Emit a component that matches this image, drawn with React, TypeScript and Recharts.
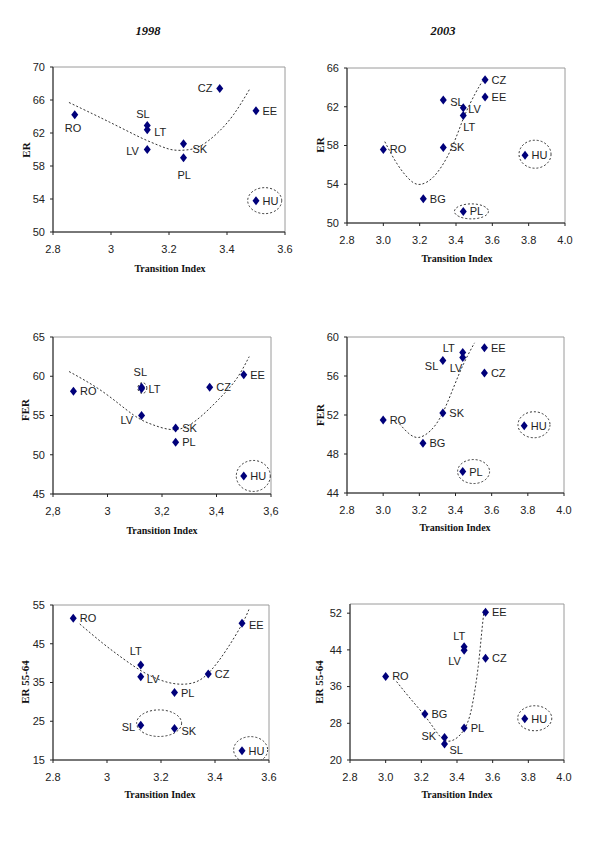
import { ScatterChart, Scatter, XAxis, YAxis, ReferenceArea } from 'recharts';

// Transition index by country
const codes98 = ['RO', 'SL', 'LT', 'LV', 'SK', 'PL', 'CZ', 'EE', 'HU'];
const ti98 = [2.875, 3.125, 3.125, 3.125, 3.25, 3.25, 3.375, 3.5, 3.5];
const codes03 = ['RO', 'BG', 'SL', 'SK', 'LV', 'LT', 'PL', 'CZ', 'EE', 'HU'];
const ti03 = [3.0, 3.22, 3.33, 3.33, 3.44, 3.44, 3.44, 3.56, 3.56, 3.78];

// Employment rates (%)
const er98 = [64.2, 62.9, 62.4, 60.0, 60.7, 59.0, 67.4, 64.7, 53.8];
const er03 = [57.6, 52.5, 62.7, 57.8, 61.9, 61.1, 51.2, 64.8, 63.0, 57.0];
const fer98 = [58.1, 58.6, 58.4, 55.0, 53.4, 51.6, 58.6, 60.2, 47.3];
const fer03 = [51.5, 49.1, 57.6, 52.2, 57.9, 58.4, 46.2, 56.3, 58.9, 50.9];
const old98 = [51.6, 24.0, 39.5, 36.5, 23.1, 32.4, 37.2, 50.3, 17.4];
const old03 = [38.2, 30.0, 23.5, 24.9, 43.9, 44.7, 27.0, 42.2, 52.2, 29.0];

// Polynomial trend lines, sampled along the curve
const trendEr98 = [[2.855, 65.7], [2.938, 64.3], [2.996, 63.3], [3.053, 62.3], [3.111, 61.3], [3.168, 60.45], [3.214, 59.95], [3.261, 59.95], [3.307, 60.4], [3.364, 61.9], [3.422, 64.2], [3.477, 67.25]];
const trendEr03 = [[3.008, 58.4], [3.076, 56.1], [3.149, 54.4], [3.208, 54.0], [3.278, 54.8], [3.351, 56.8], [3.406, 59.1], [3.452, 61.3], [3.507, 63.4], [3.544, 64.6]];
const trendFer98 = [[2.859, 60.6], [2.984, 58.0], [3.094, 55.1], [3.168, 53.8], [3.247, 53.2], [3.326, 54.4], [3.412, 57.2], [3.474, 59.7], [3.52, 62.5]];
const trendFer03 = [[3.09, 51.1], [3.142, 50.1], [3.197, 49.7], [3.262, 50.4], [3.326, 52.1], [3.391, 54.9], [3.446, 57.3], [3.505, 59.4]];
const trendOld98 = [[2.899, 50.1], [2.985, 45.1], [3.059, 41.2], [3.127, 38.0], [3.195, 35.7], [3.263, 34.6], [3.331, 35.2], [3.386, 38.2], [3.442, 43.4], [3.498, 49.8], [3.526, 53.9]];
const trendOld03 = [[3.061, 37.1], [3.136, 33.5], [3.216, 29.8], [3.276, 26.6], [3.351, 24.1], [3.444, 26.9], [3.491, 33.1], [3.519, 40.4], [3.538, 47.6], [3.552, 52.7]];

// Centres of the dotted rings around outliers
const ringsEr98 = [[3.53, 53.8]];
const ringsEr03 = [[3.835, 57.1], [3.485, 51.2]];
const ringsFer98 = [[3.128, 58.5], [3.535, 47.3]];
const ringsFer03 = [[3.834, 51.0], [3.5, 46.2]];
const ringsOld98 = [[3.193, 24.5], [3.532, 17.6]];
const ringsOld03 = [[3.836, 29.1]];

const ticks98 = [2.8, 3, 3.2, 3.4, 3.6];
const ticks03 = [2.8, 3.0, 3.2, 3.4, 3.6, 3.8, 4.0];

const NAVY = '#00007a';
const SANS = '"Liberation Sans", Arial, sans-serif';
const SERIF = '"Liberation Serif", "Times New Roman", serif';

const pts = (codes: string[], xs: number[], ys: number[]) => codes.map((code, i) => ({ code, x: xs[i], y: ys[i] }));
const xy = (pairs: number[][]) => pairs.map(([x, y]) => ({ x, y }));

type Panel = {
  plot: { left: number; top: number; w: number; h: number };
  xDomain: [number, number];
  yDomain: [number, number];
  xTicks: number[];
  yTicks: number[];
  fmt: (v: number) => string;
  points: { code: string; x: number; y: number }[];
  trend: { x: number; y: number }[];
  rings: { x: number; y: number }[];
  ringSize: number[][];
  labels: Record<string, number[]>;
  xTitle: number[];
  yTitle: number[];
  yName: string;
};

const dot = (v: number) => String(v);
const comma = (v: number) => String(v).replace('.', ',');
const fixed = (v: number) => v.toFixed(1);

const panels: Panel[] = [
  {
    plot: { left: 53, top: 67, w: 232, h: 165 },
    xDomain: [2.8, 3.6], yDomain: [50, 70], xTicks: ticks98, yTicks: [50, 54, 58, 62, 66, 70], fmt: dot,
    points: pts(codes98, ti98, er98), trend: xy(trendEr98), rings: xy(ringsEr98), ringSize: [[17, 13]],
    labels: { RO: [-10, 13], SL: [-11, -12], LT: [7, 2], LV: [-21, 1], SK: [9, 5], PL: [-6, 17], CZ: [-22, 0] },
    xTitle: [170, 269], yTitle: [26, 150], yName: 'ER',
  },
  {
    plot: { left: 347, top: 68, w: 218, h: 155 },
    xDomain: [2.8, 4.0], yDomain: [50, 66], xTicks: ticks03, yTicks: [50, 54, 58, 62, 66], fmt: fixed,
    points: pts(codes03, ti03, er03), trend: xy(trendEr03), rings: xy(ringsEr03), ringSize: [[16, 14], [17, 7.5]],
    labels: { SL: [7, 2], LV: [5, 1], LT: [0, 12] },
    xTitle: [457, 259], yTitle: [320, 145], yName: 'ER',
  },
  {
    plot: { left: 53, top: 337, w: 218, h: 157 },
    xDomain: [2.8, 3.6], yDomain: [45, 65], xTicks: ticks98, yTicks: [45, 50, 55, 60, 65], fmt: comma,
    points: pts(codes98, ti98, fer98), trend: xy(trendFer98), rings: xy(ringsFer98), ringSize: [[4.5, 5.3], [17, 15.5]],
    labels: { SL: [-8, -15], LT: [7, 0], LV: [-21, 4] },
    xTitle: [162, 531], yTitle: [25, 410], yName: 'FER',
  },
  {
    plot: { left: 347, top: 337, w: 217, h: 156 },
    xDomain: [2.8, 4.0], yDomain: [44, 60], xTicks: ticks03, yTicks: [44, 48, 52, 56, 60], fmt: fixed,
    points: pts(codes03, ti03, fer03), trend: xy(trendFer03), rings: xy(ringsFer03), ringSize: [[16, 13], [16, 12]],
    labels: { SL: [-18, 6], LT: [-20, -5], LV: [-13, 11] },
    xTitle: [455, 528], yTitle: [320, 415], yName: 'FER',
  },
  {
    plot: { left: 53, top: 605, w: 216, h: 155 },
    xDomain: [2.8, 3.6], yDomain: [15, 55], xTicks: ticks98, yTicks: [15, 25, 35, 45, 55], fmt: dot,
    points: pts(codes98, ti98, old98), trend: xy(trendOld98), rings: xy(ringsOld98), ringSize: [[22.5, 13.3], [17, 13.3]],
    labels: { LT: [-11, -14], LV: [6, 2], EE: [7, 2], SL: [-19, 2], SK: [7, 2] },
    xTitle: [160, 795], yTitle: [25, 682], yName: 'ER 55-64',
  },
  {
    plot: { left: 350, top: 604, w: 214, h: 156 },
    xDomain: [2.8, 4.0], yDomain: [20, 54], xTicks: ticks03, yTicks: [20, 28, 36, 44, 52], fmt: fixed,
    points: pts(codes03, ti03, old03), trend: xy(trendOld03), rings: xy(ringsOld03), ringSize: [[17, 12.5]],
    labels: { SK: [-23, -2], SL: [5, 6], LT: [-11, -11], LV: [-16, 11] },
    xTitle: [457, 795], yTitle: [319, 682], yName: 'ER 55-64',
  },
];

const YW = 45;
const XH = 30;
const MT = 10;
const MR = 12;

function Chart({ p }: { p: Panel }) {
  const tickStyle = { fontSize: 11, fill: '#222', fontFamily: SANS };
  return (
    <div style={{ position: 'absolute', left: p.plot.left - YW, top: p.plot.top - MT }}>
      <ScatterChart
        width={YW + p.plot.w + MR}
        height={MT + p.plot.h + XH}
        margin={{ top: MT, right: MR, bottom: 0, left: 0 }}
      >
        <ReferenceArea
          x1={p.xDomain[0]} x2={p.xDomain[1]} y1={p.yDomain[0]} y2={p.yDomain[1]}
          fill="none" fillOpacity={0} stroke="#9a9a9a" strokeWidth={1}
        />
        <XAxis
          type="number" dataKey="x" domain={p.xDomain} ticks={p.xTicks} tickFormatter={p.fmt}
          height={XH} tickSize={3} tickMargin={10} tick={tickStyle} interval={0}
          axisLine={{ stroke: '#222' }} tickLine={{ stroke: '#222' }} allowDataOverflow
        />
        <YAxis
          type="number" dataKey="y" domain={p.yDomain} ticks={p.yTicks}
          width={YW} tickSize={3} tickMargin={5} tick={tickStyle} interval={0}
          axisLine={{ stroke: '#222' }} tickLine={{ stroke: '#222' }} allowDataOverflow
        />
        <Scatter
          data={p.trend}
          line={{ stroke: '#333', strokeWidth: 1, strokeDasharray: '2 2' }}
          lineJointType="natural"
          shape={() => <g />}
          isAnimationActive={false}
        />
        <Scatter
          data={p.rings}
          isAnimationActive={false}
          shape={(s: any) => {
            const [rx, ry] = p.ringSize[s.index] ?? [16, 13];
            return <ellipse cx={s.cx} cy={s.cy} rx={rx} ry={ry} fill="none" stroke="#333" strokeWidth={1} strokeDasharray="2 2" />;
          }}
        />
        <Scatter
          data={p.points}
          isAnimationActive={false}
          shape={(s: any) => {
            const { cx, cy } = s;
            const code = s.payload.code;
            const [dx, dy] = p.labels[code] ?? [6.5, 0];
            return (
              <g>
                <polygon points={`${cx},${cy - 4.5} ${cx + 3.5},${cy} ${cx},${cy + 4.5} ${cx - 3.5},${cy}`} fill={NAVY} />
                <text x={cx + dx} y={cy + dy} dominantBaseline="central" fontSize={11} fontFamily={SANS} fill="#222">
                  {code}
                </text>
              </g>
            );
          }}
        />
      </ScatterChart>
    </div>
  );
}

function Title({ x, y, text, rotate, size = 10, italic = false }: { x: number; y: number; text: string; rotate?: boolean; size?: number; italic?: boolean }) {
  return (
    <div
      style={{
        position: 'absolute', left: x - 60, top: y - 8, width: 120, height: 16, lineHeight: '16px',
        textAlign: 'center', fontFamily: SERIF, fontWeight: 'bold', fontStyle: italic ? 'italic' : 'normal',
        fontSize: size, color: '#111', whiteSpace: 'nowrap',
        transform: rotate ? 'rotate(-90deg)' : undefined,
      }}
    >
      {text}
    </div>
  );
}

export default function App() {
  return (
    <div style={{ position: 'absolute', left: 0, top: 0, width: 592, height: 852, background: '#fff' }}>
      <Title x={148} y={31} text="1998" size={12.5} italic />
      <Title x={443} y={31} text="2003" size={12.5} italic />
      {panels.map((p, i) => (
        <div key={i}>
          <Chart p={p} />
          <Title x={p.xTitle[0]} y={p.xTitle[1]} text="Transition Index" />
          <Title x={p.yTitle[0]} y={p.yTitle[1]} text={p.yName} size={11} rotate />
        </div>
      ))}
    </div>
  );
}
